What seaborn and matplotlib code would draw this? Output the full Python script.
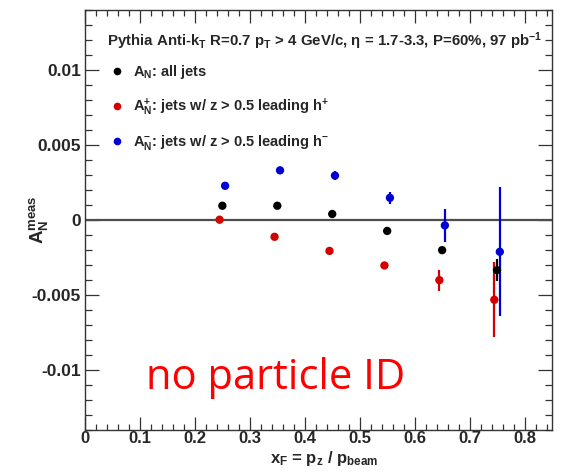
import numpy as np
import pandas as pd
import matplotlib
matplotlib.use("Agg")
import matplotlib.pyplot as plt
from matplotlib.lines import Line2D
from matplotlib.ticker import FixedLocator, MultipleLocator, FormatStrFormatter
import seaborn as sns

# Bin centres in x_F and the measured asymmetries per jet selection
xf_bins = [0.25, 0.35, 0.45, 0.55, 0.65, 0.75]
an_all = [0.00095, 0.00095, 0.00040, -0.00073, -0.00201, -0.00334]
err_all = [0.00010, 0.00010, 0.00012, 0.00015, 0.00020, 0.00075]
an_plus = [0.00002, -0.00112, -0.00206, -0.00303, -0.00401, -0.00532]
err_plus = [0.00010, 0.00012, 0.00015, 0.00020, 0.00070, 0.00250]
an_minus = [0.00228, 0.00331, 0.00296, 0.00148, -0.00036, -0.00212]
err_minus = [0.00010, 0.00015, 0.00030, 0.00040, 0.00110, 0.00430]

series_names = ["all", "plus", "minus"]
legend_labels = [
    r"$A_N$: all jets",
    r"$A_N^{+}$: jets w/ z > 0.5 leading h$^{+}$",
    r"$A_N^{-}$: jets w/ z > 0.5 leading h$^{-}$",
]
x_ticks = [0, 0.1, 0.2, 0.3, 0.4, 0.5, 0.6, 0.7, 0.8]
y_ticks = [-0.01, -0.005, 0, 0.005, 0.01]

colors = {"all": "#000000", "plus": "#d40000", "minus": "#0000d4"}
x_shift = {"all": 0.0, "plus": -0.005, "minus": 0.005}

sns.set_style("ticks")
plt.rcParams["font.family"] = ["Liberation Sans", "DejaVu Sans"]
plt.rcParams["font.weight"] = "bold"
plt.rcParams["mathtext.fontset"] = "custom"
plt.rcParams["mathtext.rm"] = "Liberation Sans:bold"
plt.rcParams["mathtext.it"] = "Liberation Sans:bold"
plt.rcParams["mathtext.bf"] = "Liberation Sans:bold"
plt.rcParams["mathtext.default"] = "rm"
plt.rcParams["axes.unicode_minus"] = False

frames = []
for name, vals, errs in [("all", an_all, err_all),
                         ("plus", an_plus, err_plus),
                         ("minus", an_minus, err_minus)]:
    frames.append(pd.DataFrame({
        "xF": np.array(xf_bins) + x_shift[name],
        "AN": vals,
        "err": errs,
        "series": name,
    }))
df = pd.concat(frames, ignore_index=True)

W, H = 565, 472
left, right, top, bottom = 85, 552, 10, 430
fig = plt.figure(figsize=(W / 100, H / 100), dpi=100)
ax = fig.add_axes([left / W, 1 - bottom / H, (right - left) / W, (bottom - top) / H])
aw, ah = right - left, bottom - top

ax.axhline(0, color="#4d4d4d", lw=1.6, zorder=1)

for name in series_names:
    sub = df[df["series"] == name]
    ax.errorbar(sub["xF"], sub["AN"], yerr=sub["err"], fmt="none",
                ecolor=colors[name], elinewidth=1.6, capsize=0, zorder=2)

sns.scatterplot(data=df, x="xF", y="AN", hue="series", hue_order=series_names,
                palette=colors, s=36, edgecolor="none", legend=False,
                ax=ax, zorder=3)

ax.set_xlim(0, 0.85)
ax.set_ylim(-0.014, 0.014)

ax.xaxis.set_major_locator(FixedLocator(x_ticks))
ax.xaxis.set_minor_locator(MultipleLocator(0.02))
ax.xaxis.set_major_formatter(FormatStrFormatter("%g"))
ax.yaxis.set_major_locator(FixedLocator(y_ticks))
ax.yaxis.set_minor_locator(MultipleLocator(0.001))
ax.yaxis.set_major_formatter(FormatStrFormatter("%g"))

ax.tick_params(which="both", direction="in", top=True, right=True,
               color="#333333", width=0.9)
ax.tick_params(axis="x", which="major", length=9.2, labelsize=12, pad=1)
ax.tick_params(axis="x", which="minor", length=4.6)
ax.tick_params(axis="y", which="major", length=10, labelsize=12.5, pad=3)
ax.tick_params(axis="y", which="minor", length=5)
for lab in ax.get_xticklabels() + ax.get_yticklabels():
    lab.set_fontweight("bold")
for sp in ax.spines.values():
    sp.set_color("#333333")
    sp.set_linewidth(1.0)

ax.set_xlabel(r"x$_F$ = p$_z$ / p$_{beam}$", fontsize=12, fontweight="bold",
              va="baseline")
ax.xaxis.set_label_coords((324 - left) / aw, -(463 - bottom) / ah)
ax.set_ylabel(r"$A_N^{meas}$", fontsize=13.5, fontweight="bold")
ax.yaxis.set_label_coords((50 - left) / aw, 0.5)

ax.text(0.5 + 6 / aw, (bottom - 41) / ah,
        r"Pythia Anti-k$_T$ R=0.7 p$_T$ > 4 GeV/c, η = 1.7-3.3, P=60%, 97 pb$^{-1}$",
        transform=ax.transAxes, ha="center", va="center",
        fontsize=10.8, fontweight="bold")

handles = [Line2D([], [], marker="o", linestyle="none", markersize=5.5,
                  markerfacecolor=colors[n], markeredgecolor="none")
           for n in series_names]
ax.legend(handles, legend_labels, loc="upper left",
          bbox_to_anchor=((110 - left) / aw, (bottom - 63) / ah),
          frameon=False, fontsize=10.5, handlelength=1.0, handletextpad=0.6,
          labelspacing=1.05, borderaxespad=0, borderpad=0)

ax.text((276 - left) / aw, (bottom - 378) / ah, "no particle ID",
        transform=ax.transAxes, ha="center", va="center",
        fontsize=30, color="#ff0000", fontweight="normal",
        family=["Open Sans", "DejaVu Sans"])

fig.savefig("out.png", dpi=100)
